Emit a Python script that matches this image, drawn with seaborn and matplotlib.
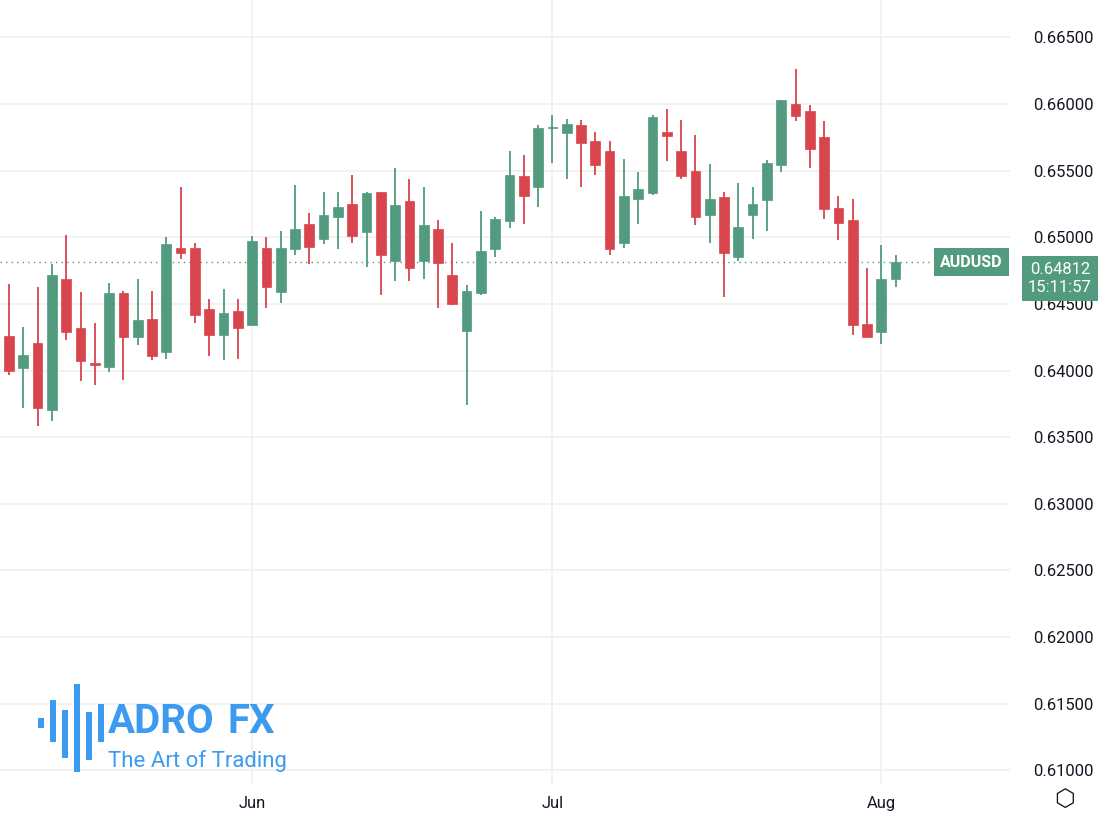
import numpy as np
import pandas as pd
import matplotlib
matplotlib.use("Agg")
import matplotlib.pyplot as plt
from matplotlib.patches import Rectangle
import seaborn as sns

# daily AUDUSD candles
opens = [0.6426, 0.6402, 0.6421, 0.6370, 0.6469, 0.6432, 0.6406, 0.6403, 0.6458, 0.6425,
         0.6439, 0.6414, 0.6492, 0.6492, 0.6446, 0.6427, 0.6445, 0.6434, 0.6492, 0.6459,
         0.6491, 0.6510, 0.6499, 0.6515, 0.6525, 0.6504, 0.6534, 0.6482, 0.6527, 0.6482,
         0.6506, 0.6472, 0.6430, 0.6458, 0.6491, 0.6512, 0.6546, 0.6538, 0.6582, 0.6578,
         0.6584, 0.6572, 0.6565, 0.6496, 0.6529, 0.6533, 0.6579, 0.6565, 0.6550, 0.6517,
         0.6530, 0.6485, 0.6517, 0.6528, 0.6554, 0.6600, 0.6595, 0.6575, 0.6522, 0.6513,
         0.6435, 0.6429, 0.6469]
highs = [0.6465, 0.6433, 0.6463, 0.6480, 0.6502, 0.6459, 0.6436, 0.6466, 0.6460, 0.6469,
         0.6460, 0.6500, 0.6538, 0.6496, 0.6454, 0.6461, 0.6454, 0.6501, 0.6500, 0.6505,
         0.6539, 0.6518, 0.6534, 0.6534, 0.6547, 0.6534, 0.6534, 0.6552, 0.6544, 0.6538,
         0.6513, 0.6496, 0.6464, 0.6520, 0.6515, 0.6565, 0.6562, 0.6584, 0.6592, 0.6589,
         0.6588, 0.6579, 0.6572, 0.6559, 0.6549, 0.6592, 0.6596, 0.6588, 0.6577, 0.6555,
         0.6534, 0.6541, 0.6538, 0.6558, 0.6603, 0.6626, 0.6599, 0.6587, 0.6531, 0.6529,
         0.6477, 0.6494, 0.6487]
lows = [0.6397, 0.6372, 0.6358, 0.6362, 0.6423, 0.6392, 0.6389, 0.6399, 0.6393, 0.6419,
        0.6408, 0.6409, 0.6484, 0.6436, 0.6411, 0.6408, 0.6409, 0.6434, 0.6447, 0.6451,
        0.6487, 0.6480, 0.6495, 0.6491, 0.6496, 0.6478, 0.6457, 0.6467, 0.6467, 0.6469,
        0.6447, 0.6449, 0.6374, 0.6457, 0.6485, 0.6507, 0.6510, 0.6523, 0.6556, 0.6544,
        0.6538, 0.6547, 0.6487, 0.6492, 0.6510, 0.6532, 0.6557, 0.6544, 0.6509, 0.6496,
        0.6455, 0.6482, 0.6499, 0.6505, 0.6549, 0.6587, 0.6552, 0.6514, 0.6498, 0.6427,
        0.6425, 0.6420, 0.6463]
closes = [0.6400, 0.6412, 0.6372, 0.6472, 0.6429, 0.6407, 0.6404, 0.6458, 0.6425, 0.6438,
          0.6411, 0.6495, 0.6488, 0.6442, 0.6427, 0.6443, 0.6432, 0.6497, 0.6463, 0.6492,
          0.6506, 0.6493, 0.6517, 0.6523, 0.6501, 0.6533, 0.6487, 0.6524, 0.6477, 0.6509,
          0.6481, 0.6450, 0.6460, 0.6490, 0.6514, 0.6547, 0.6531, 0.6582, 0.6583, 0.6585,
          0.6571, 0.6554, 0.6491, 0.6531, 0.6536, 0.6590, 0.6576, 0.6546, 0.6515, 0.6529,
          0.6488, 0.6508, 0.6525, 0.6556, 0.6603, 0.6591, 0.6566, 0.6521, 0.6511, 0.6434,
          0.6425, 0.6469, 0.64812]
month_labels = ["Jun", "Jul", "Aug"]
month_idx = [17, 38, 61]
y_ticks = [0.610, 0.615, 0.620, 0.625, 0.630, 0.635, 0.640, 0.645, 0.650, 0.655, 0.660, 0.665]
last_price = 0.64812
countdown = "15:11:57"

GREEN = "#529B7F"
RED = "#D9454C"
GRID = "#F0F0F0"
TXT = "#131722"

df = pd.DataFrame({"open": opens, "high": highs, "low": lows, "close": closes})
df["x"] = np.arange(len(df))
df["up"] = df["close"] >= df["open"]

sns.set_style("white")
plt.rcParams["font.family"] = ["Roboto", "DejaVu Sans"]

fig = plt.figure(figsize=(11.12, 8.19), dpi=100)
ax = fig.add_axes([0, 1 - 785 / 819, 1010 / 1112, 785 / 819])

colors = np.where(df["up"], GREEN, RED)
ax.vlines(df["x"], df["low"], df["high"], colors=colors, linewidth=1.3, zorder=3)
body_lo = df[["open", "close"]].min(axis=1)
body_h = (df["close"] - df["open"]).abs().clip(lower=0.00006)
ax.bar(df["x"], body_h, bottom=body_lo, width=0.68, color=colors, edgecolor=colors,
       linewidth=0.5, zorder=4)

ax.set_xlim(-0.63, 70.0)
ax.set_ylim(0.6089, 0.6678)
ax.set_yticks(y_ticks)
ax.set_xticks(month_idx)
ax.set_xticklabels(month_labels)
ax.yaxis.tick_right()
ax.set_yticklabels([f"{v:.5f}" for v in y_ticks])
ax.tick_params(axis="y", length=0, pad=17, labelsize=12, labelcolor=TXT)
ax.tick_params(axis="x", length=0, pad=8, labelsize=12, labelcolor=TXT)
ax.grid(True, color=GRID, linewidth=1.2)
for s in ax.spines.values():
    s.set_visible(False)

# last price line and labels
ax.axhline(last_price, color=GREEN, linestyle=(0, (1, 3)), linewidth=1, zorder=2)
ax.text(67.3, last_price, "AUDUSD", color="white", fontsize=11.5, fontweight="bold",
        ha="center", va="center", zorder=6,
        bbox=dict(boxstyle="square,pad=0.4", facecolor=GREEN, edgecolor="none"))
ax.text(1.0 + 50 / 1010, last_price, f"{last_price:.5f}\n{countdown}",
        transform=ax.get_yaxis_transform(), color="white", fontsize=12,
        ha="center", va="top", linespacing=1.25, zorder=6,
        bbox=dict(boxstyle="square,pad=0.35", facecolor=GREEN, edgecolor="none"))

# settings icon
fig.text(1065 / 1112, 1 - 800 / 819, "\u2b21", fontsize=17, color=TXT, ha="center",
         va="center", family=["DejaVu Sans"])

# logo
bar_specs = [(38, 718, 728), (50, 700, 742), (62, 710, 758), (74, 684, 772), (86, 712, 760), (98, 704, 742)]
for bx, top, bot in bar_specs:
    fig.patches.append(Rectangle((bx / 1112, 1 - bot / 819), 6 / 1112, (bot - top) / 819,
                                 transform=fig.transFigure, facecolor="#3C9BF0",
                                 edgecolor="none"))
fig.text(108 / 1112, 1 - 722 / 819, "ADRO", fontsize=29, fontweight="bold", color="#3C9BF0",
         ha="left", va="center")
fig.text(228 / 1112, 1 - 722 / 819, "FX", fontsize=29, fontweight="bold", color="#3C9BF0",
         ha="left", va="center")
fig.text(108 / 1112, 1 - 761 / 819, "The Art of Trading", fontsize=16, color="#3C9BF0",
         ha="left", va="center")

fig.savefig("out.png", dpi=100, facecolor="white")
